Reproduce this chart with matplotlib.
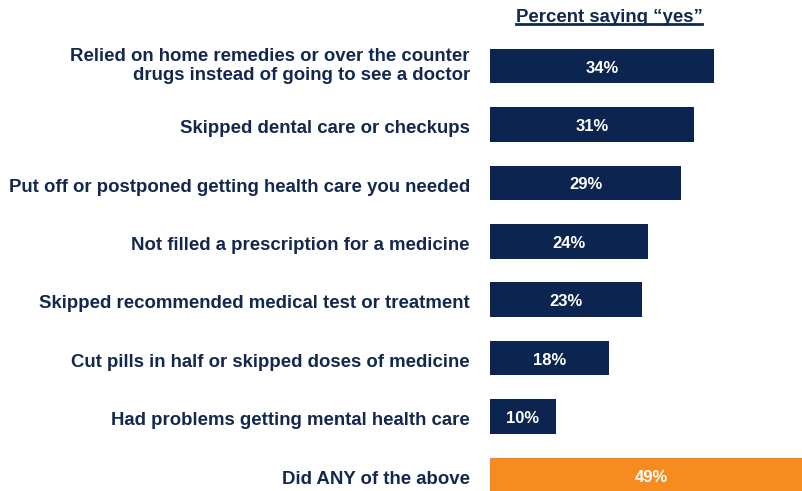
import matplotlib
matplotlib.use("Agg")
import matplotlib.pyplot as plt
from matplotlib.lines import Line2D

categories = [
    "Relied on home remedies or over the counter\ndrugs instead of going to see a doctor",
    "Skipped dental care or checkups",
    "Put off or postponed getting health care you needed",
    "Not filled a prescription for a medicine",
    "Skipped recommended medical test or treatment",
    "Cut pills in half or skipped doses of medicine",
    "Had problems getting mental health care",
    "Did ANY of the above",
]
values = [34, 31, 29, 24, 23, 18, 10, 49]
value_labels = ["34%", "31%", "29%", "24%", "23%", "18%", "10%", "49%"]
title = "Percent saying \u201cyes\u201d"

navy = "#0B2550"
orange = "#F68B1F"
text_col = "#13284F"
colors = [navy] * 7 + [orange]

plt.rcParams['font.family'] = ['Liberation Sans', 'DejaVu Sans']

fig = plt.figure(figsize=(8.03, 4.91), dpi=100)
ax = fig.add_axes([490 / 803, 0, 1 - 490 / 803, 1])
ypos = list(range(len(categories)))
ax.barh(ypos, values, height=0.59, color=colors)
ax.set_xlim(0, 313 / 6.59)
ax.set_ylim((491 - 66) / 58.43, -66 / 58.43)
ax.axis("off")

for y, v, lab in zip(ypos, values, value_labels):
    ax.annotate(lab, xy=(v / 2, y), xytext=(0, -1.5), textcoords="offset points",
                ha="center", va="center", color="white",
                fontsize=12, fontweight="bold", annotation_clip=False)

for y, cat in zip(ypos, categories):
    dy = 0 if "\n" in cat else -3
    ax.annotate(cat, xy=(0, y), xycoords="data", xytext=(-14.4, dy), textcoords="offset points",
                ha="right", va="center", color=text_col, fontsize=13.4, fontweight="bold",
                multialignment="right", annotation_clip=False, linespacing=1.1)

t = fig.text(609 / 803, 1 - 17 / 491, title, ha="center", va="center",
             color=text_col, fontsize=13.4, fontweight="bold")
fig.canvas.draw()
bb = t.get_window_extent().transformed(fig.transFigure.inverted())
uy = bb.y0 + 1.5 / 491
fig.add_artist(Line2D([bb.x0, bb.x1], [uy, uy], transform=fig.transFigure,
                      color=text_col, linewidth=2))

fig.savefig("out.png", dpi=100)
